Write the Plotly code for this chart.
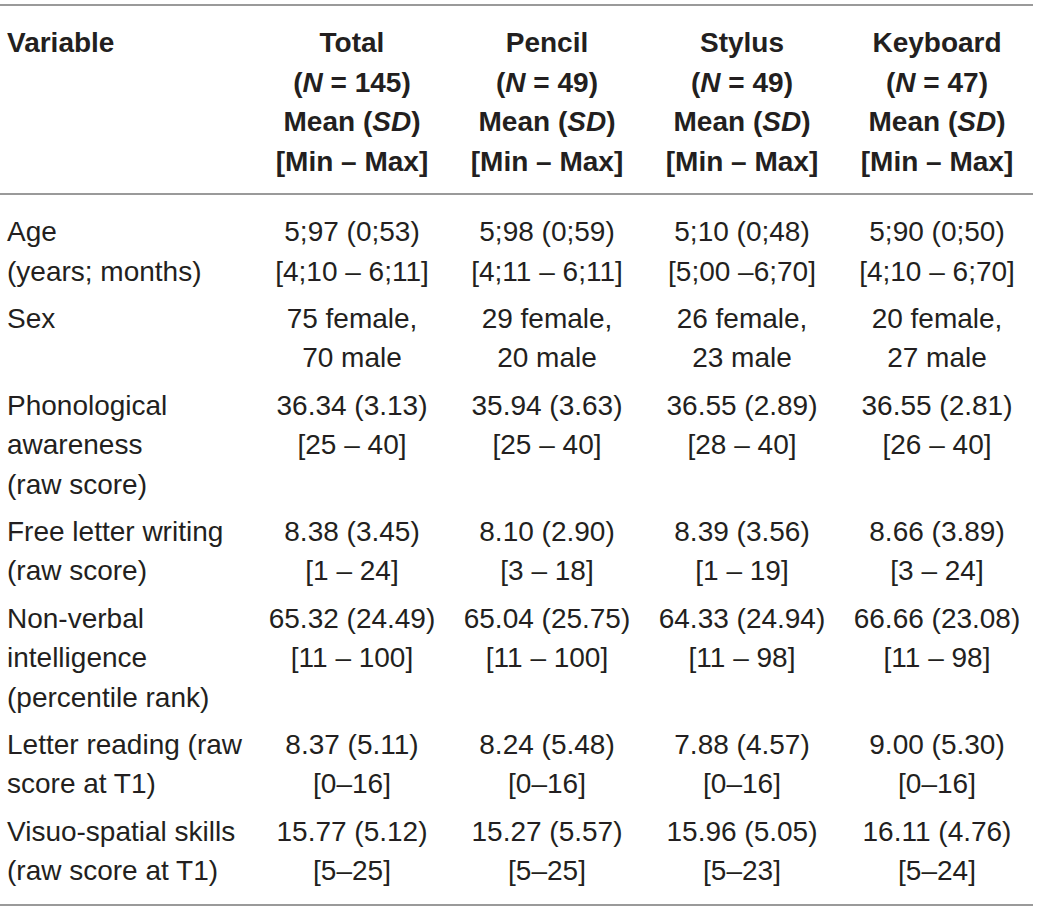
import plotly.graph_objects as go

# table content, one entry per variable row ("\n" = line break inside a cell)
variables = [
    "Age\n(years; months)",
    "Sex",
    "Phonological\nawareness\n(raw score)",
    "Free letter writing\n(raw score)",
    "Non-verbal\nintelligence\n(percentile rank)",
    "Letter reading (raw\nscore at T1)",
    "Visuo-spatial skills\n(raw score at T1)",
]
total = [
    "5;97 (0;53)\n[4;10 – 6;11]",
    "75 female,\n70 male",
    "36.34 (3.13)\n[25 – 40]",
    "8.38 (3.45)\n[1 – 24]",
    "65.32 (24.49)\n[11 – 100]",
    "8.37 (5.11)\n[0–16]",
    "15.77 (5.12)\n[5–25]",
]
pencil = [
    "5;98 (0;59)\n[4;11 – 6;11]",
    "29 female,\n20 male",
    "35.94 (3.63)\n[25 – 40]",
    "8.10 (2.90)\n[3 – 18]",
    "65.04 (25.75)\n[11 – 100]",
    "8.24 (5.48)\n[0–16]",
    "15.27 (5.57)\n[5–25]",
]
stylus = [
    "5;10 (0;48)\n[5;00 –6;70]",
    "26 female,\n23 male",
    "36.55 (2.89)\n[28 – 40]",
    "8.39 (3.56)\n[1 – 19]",
    "64.33 (24.94)\n[11 – 98]",
    "7.88 (4.57)\n[0–16]",
    "15.96 (5.05)\n[5–23]",
]
keyboard = [
    "5;90 (0;50)\n[4;10 – 6;70]",
    "20 female,\n27 male",
    "36.55 (2.81)\n[26 – 40]",
    "8.66 (3.89)\n[3 – 24]",
    "66.66 (23.08)\n[11 – 98]",
    "9.00 (5.30)\n[0–16]",
    "16.11 (4.76)\n[5–24]",
]
groups = ["Total", "Pencil", "Stylus", "Keyboard"]
group_n = [145, 49, 49, 47]

W, H = 1040, 911
TEXT = "#231f20"
RULE = "#9a9a9a"
FAMILY = "Liberation Sans, Arial, sans-serif"
GLYPH = 28          # visible glyph size
LINE_FONT = 30.4    # plotly spaces lines at 1.3em of the text font -> ~39.5px
LS = 1.3 * LINE_FONT
GAP = 7.7           # extra space between variable rows
FIRST_SHIFT = 0.75 * LINE_FONT - 0.36 * GLYPH  # point -> middle of first line

col_widths = [254.5, 195, 195, 195, 195]
left_pad = 7
header_mid = 42     # middle of first header line (px from top)
body_mid = 231      # middle of first body line
rules_px = [5, 194, 905]


def cell(text, bold=False):
    lines = []
    for ln in text.split("\n"):
        if bold:
            ln = "<b>" + ln + "</b>"
        lines.append('<span style="font-size:%dpx">%s</span>' % (GLYPH, ln))
    return "<br>".join(lines)


header_vals = [cell("Variable", bold=True)]
for g, n in zip(groups, group_n):
    header_vals.append(cell("%s\n(<i>N</i> = %d)\nMean (<i>SD</i>)\n[Min – Max]" % (g, n), bold=True))

columns = [variables, total, pencil, stylus, keyboard]

# row tops from the number of lines in each variable row
n_lines = [max(len(col[i].split("\n")) for col in columns) for i in range(len(variables))]
row_y = []
y = body_mid - FIRST_SHIFT
for k in n_lines:
    row_y.append(y)
    y += k * LS + GAP

# column anchors: left edge for the first column, centres for the rest
edges = [0]
for w in col_widths:
    edges.append(edges[-1] + w)
col_x = [left_pad] + [(edges[i] + edges[i + 1]) / 2 for i in range(1, len(col_widths))]

fig = go.Figure()
for j, col in enumerate(columns):
    pos = "bottom right" if j == 0 else "bottom center"
    fig.add_trace(go.Scatter(
        x=[col_x[j]] * (len(col) + 1),
        y=[header_mid - FIRST_SHIFT] + row_y,
        text=[header_vals[j]] + [cell(t) for t in col],
        mode="text", textposition=pos,
        textfont=dict(family=FAMILY, size=LINE_FONT, color=TEXT),
        hoverinfo="skip", showlegend=False, cliponaxis=False,
    ))

# horizontal rules: top, under header, bottom
for yy in rules_px:
    fig.add_shape(type="line", xref="x", yref="y", x0=0, x1=1033, y0=yy, y1=yy,
                  line=dict(color=RULE, width=1.8))

fig.update_layout(
    width=W, height=H,
    margin=dict(l=0, r=0, t=0, b=0),
    paper_bgcolor="white", plot_bgcolor="white",
    xaxis=dict(range=[0, W], visible=False, fixedrange=True),
    yaxis=dict(range=[H, 0], visible=False, fixedrange=True),
)

# page body has a default 8px margin; drop it so the figure sits at 0,0
fig.write_html("out.html", config={"displayModeBar": False},
               post_script="document.body.style.margin='0';")
